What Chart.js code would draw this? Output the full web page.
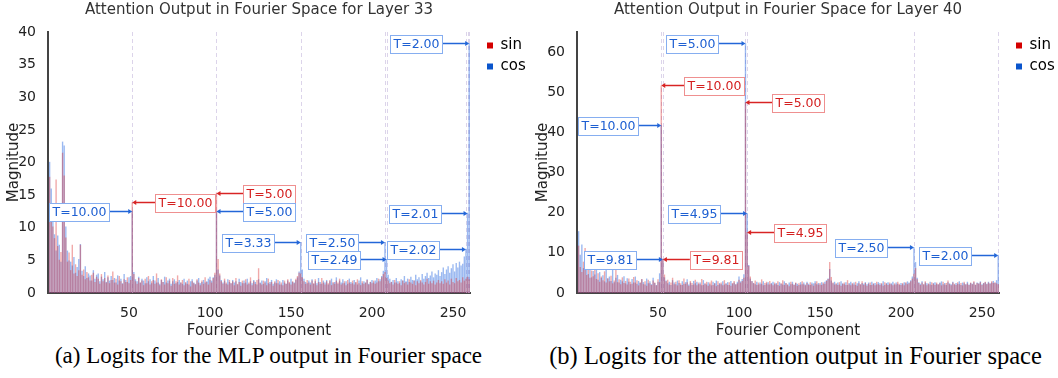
<!DOCTYPE html>
<html>
<head>
<meta charset="utf-8">
<script src="https://cdn.jsdelivr.net/npm/chart.js@4.4.1/dist/chart.umd.min.js"></script>
<style>
body { margin: 0; background: #fff; width: 1058px; height: 378px; overflow: hidden; }
.panel { position: absolute; top: 0; width: 529px; height: 378px; }
.cap { position: absolute; top: 343px; left: 0; width: 529px; text-align: center;
       font-family: "Liberation Serif", serif; font-size: 23px; color: #000; white-space: nowrap; }
</style>
</head>
<body>
<div class="panel" style="left:0"><canvas id="chart1" width="529" height="340"></canvas>
  <div class="cap" style="left:4px">(a) Logits for the MLP output in Fourier space</div></div>
<div class="panel" style="left:529px"><canvas id="chart2" width="529" height="340"></canvas>
  <div class="cap" style="left:2px;font-size:24.5px;top:342px">(b) Logits for the attention output in Fourier space</div></div>
<script>
// magnitudes for fourier components 1..260 (20 per row)
var sin33 = [
17.8,13.5,10.2,8.4,17.4,7.2,5.1,6.3,21.5,18.0,8.5,4.8,6.2,3.5,7.4,3.0,4.4,2.6,3.5,7.4,
2.8,3.6,2.1,3.2,2.4,1.9,2.8,3.1,1.7,2.5,2.2,1.4,2.9,1.8,2.3,1.6,2.7,1.5,2.0,3.3,
1.6,2.2,1.3,2.6,1.8,1.4,2.1,1.7,2.4,1.5,2.0,13.9,2.9,1.8,1.4,2.3,1.6,1.9,1.2,2.2,
1.5,2.6,1.3,1.8,2.0,1.4,3.0,1.6,1.2,2.1,1.7,1.3,2.4,1.5,1.9,1.1,2.3,1.4,1.8,2.7,
1.3,1.6,2.0,1.2,1.7,1.4,2.2,1.0,1.8,1.5,1.3,2.1,1.6,1.2,1.9,1.4,2.4,1.7,1.3,2.0,
1.6,2.3,3.1,15.4,5.2,3.0,1.8,1.4,2.2,1.6,1.3,2.0,1.5,1.8,1.2,2.3,1.4,1.7,1.1,1.9,
1.5,2.1,1.3,1.6,2.4,1.2,1.8,1.4,2.0,3.8,1.5,1.3,1.9,1.6,1.2,2.2,1.4,1.7,1.1,1.8,
1.5,2.0,1.3,1.6,1.2,1.9,1.4,2.1,1.7,1.3,1.8,1.5,2.2,2.6,3.1,3.0,2.4,1.8,1.4,2.0,
1.6,1.3,1.9,1.5,2.1,1.2,1.7,1.4,2.3,1.6,1.3,1.8,1.5,2.0,1.2,1.7,1.4,1.9,1.6,2.2,
1.3,1.5,1.8,1.2,2.0,1.6,1.4,1.9,1.3,1.7,2.1,1.5,1.2,1.8,1.4,1.6,2.0,1.3,1.7,1.5,
1.9,1.4,1.6,2.2,1.8,2.4,2.9,3.2,2.3,1.9,1.5,1.7,1.3,2.0,1.6,1.4,1.8,1.2,1.9,1.5,
1.7,1.3,2.1,1.6,1.4,1.9,1.2,1.8,1.5,2.0,1.6,1.3,1.7,2.2,1.4,1.8,1.5,1.9,1.3,1.6,
2.0,1.5,1.8,1.4,2.1,1.6,1.9,1.3,2.2,1.7,1.5,2.3,1.8,2.0,1.6,2.4,1.9,2.2,2.5,2.1
];
var cos33 = [
20.1,16.0,12.5,9.0,6.5,8.8,7.4,4.8,23.2,22.6,10.2,6.5,5.0,4.8,4.2,5.5,3.1,4.0,5.2,7.5,
3.4,2.6,4.1,2.3,3.0,2.7,1.9,3.5,2.2,2.8,3.0,1.8,2.5,2.1,3.2,1.7,2.4,1.9,2.6,2.0,
2.3,1.6,2.7,1.9,2.2,1.5,2.9,2.0,1.7,2.4,2.6,12.6,3.2,2.1,1.8,2.5,1.6,2.2,1.9,1.5,
2.4,1.8,2.1,1.5,2.6,1.9,1.6,2.3,1.4,2.0,1.7,2.5,1.6,1.9,2.2,1.4,1.8,2.1,1.5,1.7,
2.0,1.6,1.4,2.2,1.5,1.9,1.3,1.8,2.1,1.6,1.4,1.9,2.3,1.5,1.7,2.0,1.6,1.8,2.2,2.5,
1.9,2.4,2.8,12.5,3.6,2.7,2.0,1.6,1.9,1.4,2.1,1.7,1.5,2.0,1.6,1.8,1.3,2.2,1.7,1.5,
1.9,1.6,2.2,1.4,1.8,1.5,2.0,1.7,1.3,2.1,1.6,1.9,1.4,1.8,2.3,1.5,1.7,2.0,1.4,1.6,
2.1,1.5,1.8,1.3,2.0,1.6,1.4,1.9,1.5,2.2,1.7,1.6,2.0,2.4,3.3,7.8,3.6,2.2,1.7,1.5,
1.9,1.6,2.1,1.4,1.8,1.5,2.3,1.7,1.4,1.9,1.6,2.0,1.3,1.8,2.2,1.5,1.7,2.4,1.4,1.9,
1.6,2.1,1.5,1.8,1.4,2.2,1.7,1.5,2.0,1.6,1.3,1.9,2.4,1.5,1.8,1.6,2.1,1.4,1.7,2.0,
1.6,1.9,2.3,1.8,2.1,2.6,3.4,7.8,5.2,2.8,2.2,1.7,2.0,1.6,2.3,1.8,1.5,2.1,1.9,2.6,
1.8,2.2,1.7,2.5,2.0,1.9,2.8,2.1,2.4,1.8,2.9,2.2,2.6,3.1,2.3,2.7,3.3,2.4,3.0,2.8,
3.5,2.6,3.2,3.9,2.9,3.6,4.1,3.1,3.8,4.4,3.3,4.6,3.9,4.8,4.2,4.5,5.6,6.8,12.3,38.3
];
var sin40 = [
11.8,6.5,5.2,7.8,11.2,4.5,6.4,3.8,5.6,4.2,7.1,3.5,4.9,2.8,4.1,3.2,5.4,2.6,3.7,2.9,
4.3,2.4,3.1,5.8,2.7,3.4,2.2,3.9,2.5,3.0,2.1,3.6,2.8,2.3,4.0,2.6,3.2,1.9,2.7,3.5,
2.2,2.9,1.8,3.3,2.4,2.0,3.1,2.6,1.9,3.4,2.7,51.7,8.5,4.6,2.9,3.3,2.1,2.6,3.8,2.2,
2.8,1.9,3.2,2.4,2.0,3.6,2.3,2.7,1.8,3.0,2.5,2.1,3.3,1.9,2.6,2.2,3.5,2.0,2.4,2.8,
1.8,2.6,3.1,2.0,2.4,1.7,2.9,2.2,2.6,1.9,3.2,2.3,2.0,2.7,1.8,2.5,3.0,2.1,2.4,3.3,
2.6,3.0,3.8,47.5,15.2,6.8,4.1,2.9,2.4,3.1,2.0,2.6,2.2,3.4,1.9,2.5,2.8,2.1,3.0,2.3,
1.9,2.6,2.2,2.9,1.8,2.4,3.2,2.0,2.5,2.2,1.7,2.8,2.3,2.0,2.6,1.8,2.4,2.1,2.9,2.2,
1.9,2.5,2.0,2.7,2.2,1.8,2.4,2.9,2.1,2.5,2.0,2.6,2.3,3.0,3.5,7.7,4.0,2.6,2.1,2.4,
2.0,2.7,1.8,2.3,2.6,2.0,3.2,2.2,1.9,2.5,2.1,2.8,1.8,2.4,2.2,2.9,2.0,2.5,1.8,2.3,
2.6,2.0,2.4,1.9,2.8,2.2,2.0,2.5,1.8,2.7,2.3,2.0,2.6,2.2,1.9,2.4,2.1,2.8,2.3,2.0,
2.5,1.9,2.7,2.2,2.4,2.9,3.6,4.8,6.2,3.4,2.5,2.0,2.6,2.2,2.9,1.9,2.4,2.1,2.7,2.3,
2.0,2.6,2.2,2.4,1.9,2.8,2.1,2.5,3.1,2.2,1.9,2.6,2.3,2.0,2.7,2.2,2.5,1.9,2.8,2.1,
2.4,2.0,2.6,2.2,2.9,2.1,2.5,2.3,2.7,2.0,2.4,2.8,2.2,2.6,2.3,2.9,2.5,2.7,2.4,2.2
];
var cos40 = [
15.4,9.5,12.1,6.2,5.8,8.4,4.7,6.9,3.9,5.5,4.6,8.0,3.3,5.2,3.8,4.4,2.9,5.9,3.6,4.1,
3.0,7.6,2.7,3.8,4.5,2.6,3.3,2.9,4.2,2.4,3.7,2.8,2.2,3.5,2.6,4.1,2.3,3.0,2.5,3.4,
2.7,2.1,3.6,2.4,2.9,2.2,3.8,2.5,2.0,2.8,4.9,41.8,8.5,3.9,3.1,2.4,2.8,2.0,3.2,2.6,
2.2,3.1,2.5,2.0,2.9,2.3,2.7,3.4,2.1,2.6,2.0,3.0,2.4,2.8,2.2,2.6,1.9,3.2,2.3,2.1,
2.7,2.2,1.9,2.8,2.4,3.1,2.0,2.5,2.2,2.9,2.1,2.4,2.7,2.0,3.0,2.3,2.6,2.2,2.8,4.1,
2.9,3.5,4.7,62.2,19.9,7.0,3.6,3.0,2.5,2.2,2.8,2.1,2.6,2.3,2.9,2.0,2.4,2.7,2.1,2.5,
2.8,2.2,2.5,2.0,2.7,2.3,2.1,2.9,2.4,2.0,2.6,2.2,2.8,2.1,2.5,2.3,2.0,2.7,2.2,2.6,
2.1,2.8,2.3,2.0,2.6,2.4,2.9,2.2,2.5,2.1,2.7,2.3,2.8,3.2,3.6,6.0,3.1,2.4,2.8,2.2,
2.6,2.1,2.9,2.4,2.2,2.7,2.0,2.5,2.8,2.2,2.6,2.0,2.4,2.9,2.1,2.5,2.3,2.7,2.2,2.6,
2.0,2.8,2.3,2.5,2.1,2.7,2.4,2.2,2.9,2.0,2.5,2.7,2.2,2.4,2.8,2.1,2.6,2.3,2.0,2.5,
2.2,2.7,2.4,2.9,2.6,3.2,4.1,11.4,7.7,3.8,2.7,2.3,2.9,2.1,2.6,2.4,2.2,2.8,2.0,2.5,
2.7,2.3,2.1,2.6,2.9,2.2,2.5,2.0,2.7,2.4,2.2,2.8,2.1,2.5,2.3,2.9,2.0,2.6,2.4,2.2,
2.8,2.1,2.5,2.3,2.7,2.0,2.6,2.4,2.9,2.2,2.5,2.7,2.3,2.8,2.4,2.6,3.0,2.5,3.2,9.5
];

// annotated peaks: label, component, which series
var notes33Text = ['T=2.00', 'T=10.00', 'T=10.00', 'T=5.00', 'T=5.00', 'T=3.33', 'T=2.50', 'T=2.49', 'T=2.01', 'T=2.02'];
var notes33Comp = [260, 52, 52, 104, 104, 156, 208, 209, 259, 258];
var notes33Series = ['cos', 'cos', 'sin', 'sin', 'cos', 'cos', 'cos', 'cos', 'cos', 'cos'];

var notes40Text = ['T=5.00', 'T=10.00', 'T=5.00', 'T=10.00', 'T=4.95', 'T=4.95', 'T=9.81', 'T=9.81', 'T=2.50', 'T=2.00'];
var notes40Comp = [104, 52, 104, 52, 105, 105, 53, 53, 208, 260];
var notes40Series = ['cos', 'sin', 'sin', 'cos', 'cos', 'sin', 'cos', 'sin', 'cos', 'cos'];

var xTicks = [50, 100, 150, 200, 250];

// which side of the peak each label box sits (-1 left, 1 right)
var side33 = [-1, -1, 1, 1, 1, -1, -1, -1, -1, -1];
var side40 = [-1, 1, 1, -1, -1, 1, -1, 1, -1, -1];

var FONT = '"DejaVu Sans", Verdana, sans-serif';

function toPoints(vals) {
  var pts = [];
  for (var i = 0; i < vals.length; i++) pts.push({ x: i + 1, y: vals[i] });
  return pts;
}

// dashed guide lines + arrow labels
function makeNotes(texts, comps, series, sides, sinVals, cosVals) {
  return {
    id: 'notes',
    beforeDatasetsDraw: function (chart) {
      var ctx = chart.ctx, a = chart.chartArea, xs = chart.scales.x;
      ctx.save();
      ctx.strokeStyle = '#dcd4ea';
      ctx.lineWidth = 1;
      ctx.setLineDash([4, 3]);
      for (var i = 0; i < comps.length; i++) {
        var px = Math.round(xs.getPixelForValue(comps[i])) + 0.5;
        ctx.beginPath();
        ctx.moveTo(px, a.top);
        ctx.lineTo(px, a.bottom);
        ctx.stroke();
      }
      ctx.restore();
    },
    afterDatasetsDraw: function (chart) {
      var ctx = chart.ctx, xs = chart.scales.x, ys = chart.scales.y;
      ctx.save();
      ctx.font = '12.5px ' + FONT;
      ctx.textBaseline = 'middle';
      ctx.textAlign = 'center';
      for (var i = 0; i < texts.length; i++) {
        var isCos = series[i] == 'cos';
        var v = (isCos ? cosVals : sinVals)[comps[i] - 1];
        var tx = xs.getPixelForValue(comps[i]);
        var ty = Math.round(ys.getPixelForValue(v)) + 0.5;
        var dir = sides[i];
        var bx = tx + dir * 53;
        var w = Math.round(ctx.measureText(texts[i]).width + 6), h = 18;
        var lineCol = isCos ? '#2366d8' : '#d82424';
        var edgeCol = isCos ? '#86aef0' : '#ef9090';
        var txtCol = isCos ? '#1d5fd2' : '#d41f1f';
        // arrow
        var x0 = bx - dir * w / 2;
        ctx.strokeStyle = lineCol;
        ctx.lineWidth = 1.5;
        ctx.beginPath();
        ctx.moveTo(x0, ty);
        ctx.lineTo(tx + dir * 3, ty);
        ctx.stroke();
        ctx.fillStyle = lineCol;
        ctx.beginPath();
        ctx.moveTo(tx, ty);
        ctx.lineTo(tx + dir * 4, ty - 2.5);
        ctx.lineTo(tx + dir * 4, ty + 2.5);
        ctx.closePath();
        ctx.fill();
        // box
        var bl = Math.round(bx - w / 2) + 0.5, bt = Math.round(ty - h / 2) + 0.5;
        ctx.fillStyle = '#fff';
        ctx.fillRect(bl, bt, w, h);
        ctx.strokeStyle = edgeCol;
        ctx.lineWidth = 1;
        ctx.strokeRect(bl, bt, w, h);
        ctx.fillStyle = txtCol;
        ctx.fillText(texts[i], bl + w / 2, bt + h / 2 + 0.5);
      }
      ctx.restore();
    }
  };
}

function makeChart(id, title, sinVals, cosVals, yMax, yStep, notes) {
  return new Chart(document.getElementById(id), {
    type: 'bar',
    data: {
      datasets: [
        { label: 'sin', data: toPoints(sinVals), backgroundColor: 'rgba(222,50,50,0.42)', borderWidth: 0 },
        { label: 'cos', data: toPoints(cosVals), backgroundColor: 'rgba(55,115,228,0.5)', borderWidth: 0 }
      ]
    },
    options: {
      responsive: false,
      animation: false,
      grouped: false,
      categoryPercentage: 1,
      barPercentage: 0.85,
      layout: { padding: 0 },
      plugins: {
        title: {
          display: true, text: title, color: '#333', fullSize: false,
          font: { family: FONT, size: 15, weight: 'normal' },
          padding: { top: 1, bottom: 13 }
        },
        legend: {
          position: 'right', align: 'start', fullSize: false, maxWidth: 48,
          labels: {
            boxWidth: 6, boxHeight: 6, padding: 6, color: '#2a3f5f',
            font: { family: FONT, size: 15 },
            generateLabels: function () {
              return [
                { text: 'sin', fillStyle: '#d40000', strokeStyle: '#d40000', lineWidth: 0, datasetIndex: 0 },
                { text: 'cos', fillStyle: '#0a55cc', strokeStyle: '#0a55cc', lineWidth: 0, datasetIndex: 1 }
              ];
            }
          }
        },
        tooltip: { enabled: false }
      },
      scales: {
        x: {
          type: 'linear', min: 0, max: 260.5, offset: false,
          afterBuildTicks: function (s) { s.ticks = xTicks.map(function (v) { return { value: v }; }); },
          ticks: { font: { family: FONT, size: 14 }, color: '#222', autoSkip: false, maxRotation: 0, padding: 4 },
          grid: { display: false },
          border: { display: true, color: '#444', width: 2 },
          title: { display: true, text: 'Fourier Component', color: '#222', font: { family: FONT, size: 15 }, padding: { top: 2, bottom: 0 } },
          afterFit: function (s) { s.height = 47; }
        },
        y: {
          min: 0, max: yMax,
          afterBuildTicks: function (s) {
            var t = [];
            for (var v = 0; v <= yMax; v += yStep) t.push({ value: v });
            s.ticks = t;
          },
          ticks: { font: { family: FONT, size: 14 }, color: '#222', padding: 4 },
          grid: { display: false },
          border: { display: true, color: '#444', width: 2 },
          title: { display: true, text: 'Magnitude', color: '#222', font: { family: FONT, size: 15 }, padding: { top: 5, bottom: 1 } },
          afterFit: function (s) { s.width = 48; }
        },
        // empty strip between plot and legend
        gap: {
          type: 'linear', position: 'right', display: true,
          grid: { display: false }, border: { display: false }, ticks: { display: false },
          afterFit: function (s) { s.width = 11; }
        }
      }
    },
    plugins: [notes]
  });
}

makeChart('chart1', 'Attention Output in Fourier Space for Layer 33', sin33, cos33, 40, 5,
  makeNotes(notes33Text, notes33Comp, notes33Series, side33, sin33, cos33));
makeChart('chart2', 'Attention Output in Fourier Space for Layer 40', sin40, cos40, 65, 10,
  makeNotes(notes40Text, notes40Comp, notes40Series, side40, sin40, cos40));
</script>
</body>
</html>
